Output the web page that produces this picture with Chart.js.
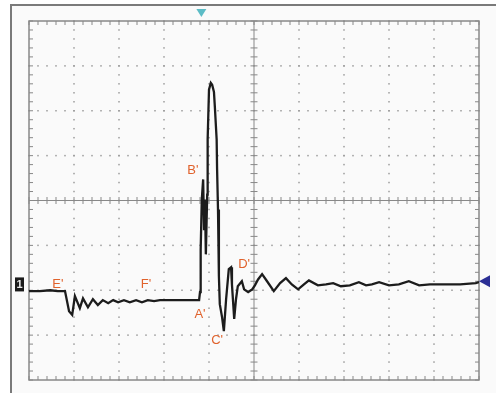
<!DOCTYPE html>
<html>
<head>
<meta charset="utf-8">
<script src="https://cdn.jsdelivr.net/npm/chart.js@4.4.1/dist/chart.umd.min.js"></script>
<style>
html, body { margin: 0; padding: 0; background: #fff; }
canvas { display: block; }
</style>
</head>
<body>
<canvas id="scope" width="496" height="393"></canvas>
<script>
"use strict";

// Trace, in divisions (x: 0..10, y: -4..4)
const timeDiv = [
    0.00, 0.24, 0.47, 0.64, 0.80, 0.89, 0.96, 1.02, 1.13, 1.20,
    1.31, 1.42, 1.53, 1.64, 1.76, 1.87, 1.98, 2.11, 2.24, 2.38,
    2.51, 2.64, 2.78, 2.91, 3.04, 3.78, 3.80, 3.81, 3.82, 3.84,
    3.87, 3.89, 3.91, 3.93, 3.96, 3.97, 4.00, 4.04, 4.07, 4.11,
    4.13, 4.17, 4.18, 4.20, 4.22, 4.24, 4.29, 4.33, 4.38, 4.44,
    4.49, 4.51, 4.56, 4.60, 4.64, 4.73, 4.78, 4.87, 4.96, 5.02,
    5.09, 5.18, 5.29, 5.44, 5.58, 5.71, 5.84, 5.98, 6.11, 6.22,
    6.42, 6.60, 6.76, 6.93, 7.13, 7.33, 7.49, 7.62, 7.78, 8.00,
    8.22, 8.44, 8.67, 8.91, 9.27, 9.58, 9.93, 10.00
];
const voltDiv = [
    -2.02, -2.02, -2.00, -2.02, -2.02, -2.47, -2.55, -2.13, -2.40, -2.18,
    -2.38, -2.20, -2.33, -2.22, -2.29, -2.22, -2.27, -2.22, -2.27, -2.22,
    -2.27, -2.22, -2.24, -2.22, -2.22, -2.22, -2.04, -1.80, -1.09, 0.02,
    0.47, -0.64, 0.02, -1.20, 0.13, 1.36, 2.47, 2.62, 2.58, 2.42,
    2.09, 1.36, 0.69, -0.20, -1.69, -2.31, -2.60, -2.91, -2.20, -1.53,
    -1.49, -1.87, -2.64, -2.20, -1.91, -1.80, -1.98, -2.04, -1.98, -1.89,
    -1.76, -1.64, -1.80, -2.02, -1.84, -1.73, -1.87, -1.98, -1.87, -1.78,
    -1.89, -1.87, -1.84, -1.91, -1.89, -1.82, -1.89, -1.87, -1.82, -1.89,
    -1.87, -1.80, -1.89, -1.87, -1.87, -1.87, -1.84, -1.82
];

// Point labels on the trace
const markerText = ["E'", "F'", "A'", "B'", "C'", "D'"];
const markerTime = [0.64, 2.60, 3.80, 3.64, 4.18, 4.78];
const markerVolt = [-1.87, -1.87, -2.53, 0.67, -3.11, -1.42];

// Screen markers: trigger position, channel 1 ground, trigger level
const triggerTime = 3.83;
const groundLevel = -1.87;
const triggerLevel = -1.80;

const screenPlugin = {
    id: "scopeScreen",
    beforeDraw(chart) {
        const ctx = chart.ctx;
        const { left, right, top, bottom } = chart.chartArea;
        const xs = chart.scales.x;
        const ys = chart.scales.y;
        ctx.save();

        // Screen background and outer frame
        ctx.fillStyle = "#fafafa";
        ctx.fillRect(11, 5, chart.width - 11, chart.height - 5);
        ctx.strokeStyle = "#7a7a7a";
        ctx.lineWidth = 2;
        ctx.beginPath();
        ctx.moveTo(11, chart.height);
        ctx.lineTo(11, 5);
        ctx.lineTo(chart.width, 5);
        ctx.stroke();

        // Dotted division lines
        ctx.fillStyle = "#9c9c9c";
        for (let i = 1; i < 10; i++) {
            if (i === 5) continue;
            const px = xs.getPixelForValue(i);
            for (let v = -4; v <= 4.001; v += 0.2) {
                ctx.fillRect(px - 0.75, ys.getPixelForValue(v) - 0.75, 1.5, 1.5);
            }
        }
        for (let j = -3; j <= 3; j++) {
            if (j === 0) continue;
            const py = ys.getPixelForValue(j);
            for (let t = 0; t <= 10.001; t += 0.2) {
                ctx.fillRect(xs.getPixelForValue(t) - 0.75, py - 0.75, 1.5, 1.5);
            }
        }

        // Centre axes with minor ticks, border ticks
        const cx = xs.getPixelForValue(5);
        const cy = ys.getPixelForValue(0);
        ctx.strokeStyle = "#888888";
        ctx.lineWidth = 1;
        ctx.beginPath();
        ctx.moveTo(left, cy);
        ctx.lineTo(right, cy);
        ctx.moveTo(cx, top);
        ctx.lineTo(cx, bottom);
        for (let t = 0; t <= 10.001; t += 0.2) {
            const px = xs.getPixelForValue(t);
            ctx.moveTo(px, cy - 3.5);
            ctx.lineTo(px, cy + 3.5);
            ctx.moveTo(px, top);
            ctx.lineTo(px, top + 4);
            ctx.moveTo(px, bottom);
            ctx.lineTo(px, bottom - 4);
        }
        for (let v = -4; v <= 4.001; v += 0.2) {
            const py = ys.getPixelForValue(v);
            ctx.moveTo(cx - 3.5, py);
            ctx.lineTo(cx + 3.5, py);
            ctx.moveTo(left, py);
            ctx.lineTo(left + 4, py);
            ctx.moveTo(right, py);
            ctx.lineTo(right - 4, py);
        }
        ctx.stroke();

        // Graticule border
        ctx.lineWidth = 1.5;
        ctx.strokeRect(left, top, right - left, bottom - top);
        ctx.restore();
    },
    afterDatasetsDraw(chart) {
        const ctx = chart.ctx;
        const { left, right, top } = chart.chartArea;
        const xs = chart.scales.x;
        const ys = chart.scales.y;
        ctx.save();

        // Trace labels
        ctx.fillStyle = "#e0622c";
        ctx.font = "13px 'Liberation Sans', Arial, sans-serif";
        ctx.textAlign = "center";
        ctx.textBaseline = "middle";
        markerText.forEach((txt, i) => {
            ctx.fillText(txt, xs.getPixelForValue(markerTime[i]), ys.getPixelForValue(markerVolt[i]));
        });

        // Trigger position (cyan, top)
        const tx = xs.getPixelForValue(triggerTime);
        ctx.fillStyle = "#5cbcc6";
        ctx.beginPath();
        ctx.moveTo(tx - 5, top - 12);
        ctx.lineTo(tx + 5, top - 12);
        ctx.lineTo(tx, top - 4);
        ctx.closePath();
        ctx.fill();

        // Channel 1 ground marker
        const gy = ys.getPixelForValue(groundLevel);
        ctx.fillStyle = "#1a1a1a";
        ctx.fillRect(left - 14, gy - 7, 9, 14);
        ctx.fillStyle = "#e8e8e8";
        ctx.font = "bold 11px 'Liberation Sans', Arial, sans-serif";
        ctx.fillText("1", left - 9.5, gy + 0.5);

        // Trigger level (blue, right)
        const ly = ys.getPixelForValue(triggerLevel);
        ctx.fillStyle = "#2b2f95";
        ctx.beginPath();
        ctx.moveTo(right, ly);
        ctx.lineTo(right + 11, ly - 6);
        ctx.lineTo(right + 11, ly + 6);
        ctx.closePath();
        ctx.fill();
        ctx.restore();
    }
};

const points = timeDiv.map((t, i) => ({ x: t, y: voltDiv[i] }));

new Chart(document.getElementById("scope"), {
    type: "scatter",
    data: {
        datasets: [
            {
                data: points,
                showLine: true,
                borderColor: "#1c1c1c",
                borderWidth: 2.3,
                pointRadius: 0,
                tension: 0,
            },
        ],
    },
    options: {
        responsive: false,
        animation: false,
        devicePixelRatio: 1,
        layout: {
            padding: { left: 29, top: 21, right: 17, bottom: 13 },
        },
        plugins: {
            legend: { display: false },
            tooltip: { enabled: false },
        },
        scales: {
            x: { type: "linear", min: 0, max: 10, display: false },
            y: { type: "linear", min: -4, max: 4, display: false },
        },
    },
    plugins: [screenPlugin],
});
</script>
</body>
</html>
